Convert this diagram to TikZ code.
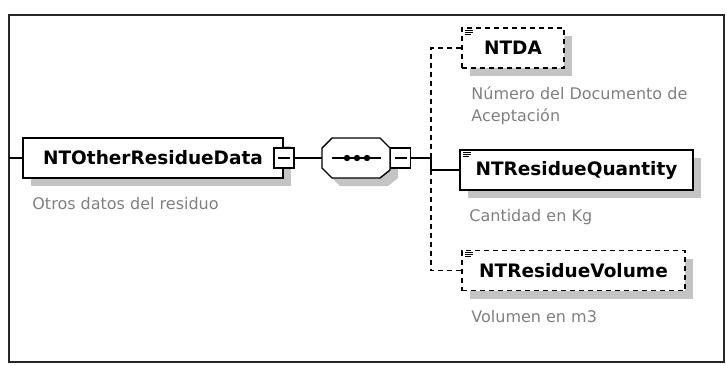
\documentclass[tikz,border=0pt]{standalone}
\usepackage{fontspec}
\setmainfont{DejaVu Sans}
\usepackage{xcolor}
\usetikzlibrary{positioning, calc, shadows}
\definecolor{cDesc}{RGB}{128,128,128}
\definecolor{cShadow}{RGB}{196,196,196}
\newcommand{\octpath}[1]{([xshift=10pt]#1.north west) -- ([xshift=-10pt]#1.north east) -- ([yshift=-10pt]#1.north east) -- ([yshift=8pt]#1.south east) -- ([xshift=-10pt]#1.south east) -- ([xshift=10pt]#1.south west) -- ([yshift=10pt]#1.south west) -- ([yshift=-10pt]#1.north west) -- cycle}
\tikzset{
	elem/.style    ={rectangle, draw=black, line width=1.6pt, fill=white, minimum height=40pt, inner sep=0pt, font=\bfseries\fontsize{18.5}{20}\selectfont, drop shadow={shadow xshift=8pt, shadow yshift=-8pt, fill=cShadow, opacity=1}},
	opt/.style     ={dash pattern=on 5pt off 4pt},
	collapse/.style={rectangle, draw=black, line width=1.4pt, fill=white, minimum size=20pt, inner sep=0pt,
		path picture={\draw[line width=1.3pt] ([xshift=-6pt]path picture bounding box.center) -- ([xshift=6pt]path picture bounding box.center);}},
	seqframe/.style={rectangle, minimum width=68pt, minimum height=40pt, inner sep=0pt, outer sep=0pt},
	conn/.style    ={draw=black, line width=1.3pt},
	optconn/.style ={conn, dash pattern=on 5pt off 4pt},
	desc/.style    ={anchor=base west, inner sep=0pt, align=left, text=cDesc, font=\fontsize{16}{22}\selectfont},
	frame/.style   ={draw=black!85, line width=1.5pt},
}
\begin{document}
\begin{tikzpicture}[x=1pt, y={(0pt,-1pt)}]
	\useasboundingbox (0,0) rectangle (727,365);
	\draw[frame] (9,15) rectangle (724,362);
	% parent element and sequence
	\node[elem, minimum width=260pt] (main) at (153,158) {NTOtherResidueData};
	\node[collapse] (mainSq) at (main.east) {};
	\node[seqframe] (seq) at (356,158) {};
	\node[seqframe] (seqSh) at ([xshift=8pt,yshift=-8pt]seq.center) {};
	\fill[cShadow] \octpath{seqSh};
	\draw[conn, fill=white, line width=1.4pt] \octpath{seq};
	\node[collapse, right=0pt of seq] (seqSq) {};
	\coordinate (edge) at (9,158);
	\coordinate (bus) at (431,158);
	% child elements
	\node[elem, opt, minimum width=102pt] (ntda) at (513,48) {NTDA};
	\node[elem, minimum width=233pt] (qty) at (576.5,170) {NTResidueQuantity};
	\node[elem, opt, minimum width=223pt] (vol) at (573.5,270.5) {NTResidueVolume};
	\foreach \n in {ntda,qty,vol}
		\foreach \dy/\len in {3/8,5/8,7/6}
			\draw[line width=0.9pt] ([xshift=4pt,yshift=-\dy pt]\n.north west) -- ++(\len,0);
	% descriptions
	\node[desc] (mainDesc) at ([xshift=10pt,yshift=-31pt]main.south west) {Otros datos del residuo};
	\node[desc] (ntdaDesc) at ([xshift=10pt,yshift=-53pt]ntda.south west) {Número del Documento de\\ Aceptación};
	\node[desc] (qtyDesc) at ([xshift=10pt,yshift=-31pt]qty.south west) {Cantidad en Kg};
	\node[desc] (volDesc) at ([xshift=10pt,yshift=-31pt]vol.south west) {Volumen en m3};
	% connectors
	\draw[conn] (edge) -- (main.west);
	\draw[conn] (mainSq.east) -- (seq.west);
	\draw[conn] ([xshift=10pt]seq.west) -- ([xshift=-9pt]seq.east);
	\foreach \dx in {-9,1,11}
		\fill ([xshift=\dx pt]seq.center) circle (3.2pt);
	\draw[conn] (seqSq.east) -- (bus);
	\draw[conn] ([yshift=5pt]bus) |- (qty.west);
	\draw[optconn] (ntda.west) -| (bus);
	\draw[optconn] (vol.west) -| (bus);
\end{tikzpicture}
\end{document}
